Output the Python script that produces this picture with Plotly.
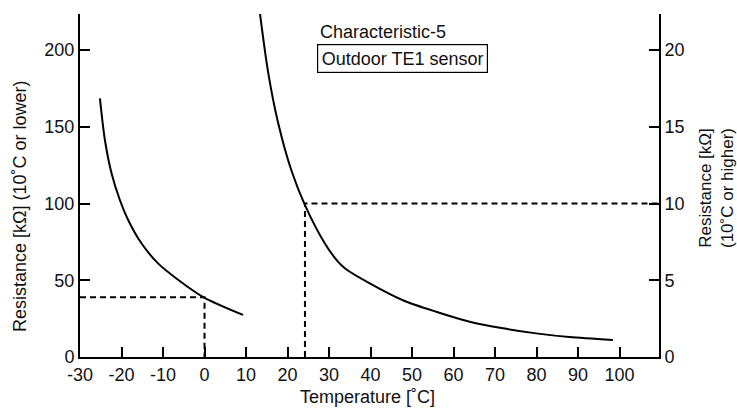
import plotly.graph_objects as go

# Left curve (left axis, kΩ, 10°C or lower)
low_temp = [-25.2, -24.0, -22.4, -20.4, -18.4, -15.2, -11.2, -6.3, -0.2, 9.3]
low_res = [168.5, 141.4, 119.7, 102.3, 89.3, 74.1, 61.0, 50.2, 38.9, 27.4]

# Right curve (right axis, kΩ, 10°C or higher)
high_temp = [13.3, 15.3, 17.7, 21.0, 24.2, 29.0, 32.2, 34.2, 39.8, 47.8, 55.8, 63.9, 71.9, 79.9, 87.9, 98.4]
high_res = [22.5, 18.6, 15.3, 12.1, 9.9, 7.4, 6.2, 5.7, 4.8, 3.7, 2.95, 2.3, 1.87, 1.54, 1.30, 1.11]

# Reference dashed markers
ref_low = (0, 39)      # temperature, left-axis resistance
ref_high = (24.2, 10)  # temperature, right-axis resistance

x_ticks = [-30, -20, -10, 0, 10, 20, 30, 40, 50, 60, 70, 80, 90, 100]
yl_ticks = [0, 50, 100, 150, 200]
yr_ticks = [0, 5, 10, 15, 20]

X_MAX = 109.5
YL_MAX = 223.5
YR_MAX = YL_MAX / 10

FONT = "Arial, Liberation Sans, sans-serif"
FS = 18
dash = "6px,4px"

fig = go.Figure()
fig.add_trace(go.Scatter(x=low_temp, y=low_res, mode="lines",
                         line=dict(color="black", width=2, shape="spline", smoothing=0.8), yaxis="y", showlegend=False))
fig.add_trace(go.Scatter(x=high_temp, y=high_res, mode="lines",
                         line=dict(color="black", width=2, shape="spline", smoothing=0.8), yaxis="y2", showlegend=False))

# dashed guide lines
fig.add_trace(go.Scatter(x=[-30, ref_low[0], ref_low[0]], y=[ref_low[1], ref_low[1], 0], mode="lines",
                         line=dict(color="black", width=2, dash=dash), yaxis="y", showlegend=False))
fig.add_trace(go.Scatter(x=[ref_high[0], ref_high[0], X_MAX], y=[0, ref_high[1], ref_high[1]], mode="lines",
                         line=dict(color="black", width=2, dash=dash), yaxis="y2", showlegend=False))

axis_common = dict(showgrid=False, zeroline=False, showline=True, linecolor="black", linewidth=2,
                   ticks="inside", ticklen=10, tickwidth=2, tickcolor="black",
                   tickfont=dict(family=FONT, size=FS, color="#111"))

fig.update_layout(
    width=737, height=412,
    margin=dict(l=80, r=78, t=14, b=55),
    paper_bgcolor="white", plot_bgcolor="white",
    font=dict(family=FONT, size=FS, color="#111"),
    xaxis=dict(range=[-30, X_MAX], tickvals=x_ticks, ticktext=[str(v) for v in x_ticks], **axis_common),
    yaxis=dict(range=[0, YL_MAX], tickvals=yl_ticks, ticktext=[str(v) for v in yl_ticks], **axis_common),
    yaxis2=dict(range=[0, YR_MAX], tickvals=yr_ticks, ticktext=[str(v) for v in yr_ticks],
                overlaying="y", side="right", **axis_common),
    annotations=[
        dict(text="Temperature [˚C]", xref="paper", yref="paper", x=0.497, y=-0.1166, xanchor="center",
             yanchor="middle", showarrow=False, font=dict(size=FS)),
        dict(text="Resistance [kΩ] (10˚C or lower)", xref="paper", yref="paper", x=-0.1036, y=0.44,
             textangle=-90, xanchor="center", yanchor="middle", showarrow=False, font=dict(size=FS)),
        dict(text="Resistance [kΩ]<br>(10˚C or higher)", xref="paper", yref="paper", x=(716 - 80) / 579,
             y=0.4927, textangle=-90, xanchor="center", yanchor="middle", showarrow=False,
             font=dict(size=17)),
        dict(text="Characteristic-5", xref="x", yref="y", x=27.3, y=211.7, xanchor="left", yanchor="middle",
             showarrow=False, font=dict(size=FS)),
        dict(text="Outdoor TE1 sensor", xref="x", yref="y", x=47.7, y=194.5, xanchor="center", yanchor="middle",
             showarrow=False, font=dict(size=FS), bordercolor="black", borderwidth=1.2, borderpad=3.5,
             bgcolor="white"),
    ],
)

fig.write_html("out.html", config={"displayModeBar": False},
               post_script="document.body.style.margin='0px';")
